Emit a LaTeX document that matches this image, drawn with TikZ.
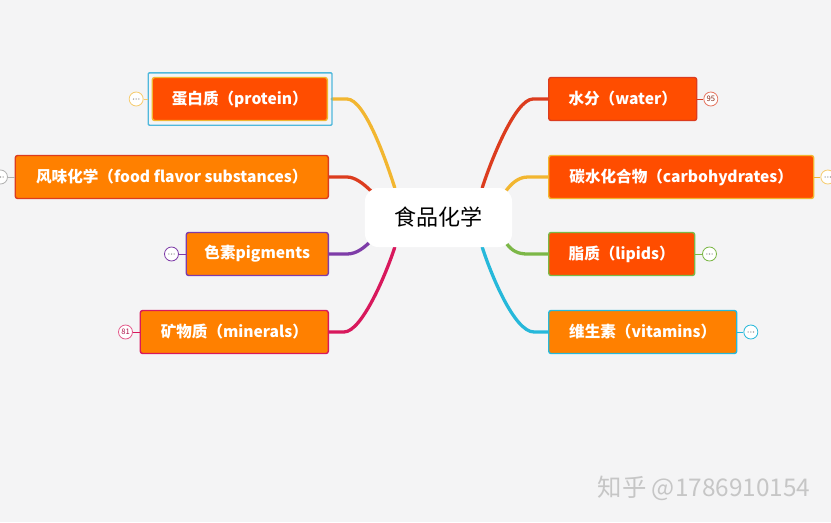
\documentclass[tikz,border=0pt]{standalone}
\usepackage{fontspec}
\newfontfamily\cjk{Noto Sans CJK SC}
\usetikzlibrary{positioning}
\pgfdeclarelayer{back}
\pgfsetlayers{back,main}
\definecolor{bg}{HTML}{F4F4F5}
\definecolor{boxred}{HTML}{FF4D00}
\definecolor{boxorange}{HTML}{FF8000}
\definecolor{lnyellow}{HTML}{F2B630}
\definecolor{lnred}{HTML}{DC3C1E}
\definecolor{lnpurple}{HTML}{7E3CA8}
\definecolor{lnmagenta}{HTML}{D8185C}
\definecolor{lngreen}{HTML}{7CB747}
\definecolor{lncyan}{HTML}{26B8DA}
\definecolor{selcyan}{HTML}{4FB8DC}

\begin{document}
\begin{tikzpicture}[x=0.03cm,y=-0.03cm,
  topic/.style={rectangle, rounded corners=2pt, minimum height=1.29cm, line width=1.2pt,
    text=white, inner sep=0pt, font=\cjk\bfseries\fontsize{13.3}{15}\selectfont},
  fold/.style={circle, draw, fill=white, line width=0.7pt, minimum size=0.42cm, inner sep=0pt,
    text=gray, font=\cjk\fontsize{6.5}{7}\selectfont},
  dots/.style={path picture={\foreach \d in {-1,0,1}
    \fill[gray!70] ([xshift=\d*0.08cm]path picture bounding box.center) circle (0.65pt);}},
  branch/.style={line width=2.8pt, line cap=round}]
  \begin{pgfonlayer}{back}
    \fill[bg] (0,0) rectangle (831,522); % background
  \end{pgfonlayer}
  \useasboundingbox (0,0) rectangle (831,522);

  \node[fill=white, rounded corners=0.4cm, minimum width=4.41cm, minimum height=1.77cm,
    font=\cjk\fontsize{18.8}{20}\selectfont] (root) at (438.5,217.5) {食品化学}; % central topic

  % left side
  \node[topic, fill=boxred, draw=lnyellow, minimum width=5.25cm, anchor=east] (protein) at (328,99) {蛋白质（protein）};
  \node[topic, fill=boxorange, draw=lnred, minimum width=9.39cm, anchor=east] (flavor) at (329,177) {风味化学（food flavor substances）};
  \node[topic, fill=boxorange, draw=lnpurple, minimum width=4.26cm, anchor=east] (pigment) at (329,254) {色素pigments};
  \node[topic, fill=boxorange, draw=lnmagenta, minimum width=5.64cm, anchor=east] (mineral) at (329,332) {矿物质（minerals）};
  % right side
  \node[topic, fill=boxred, draw=lnred, minimum width=4.44cm, anchor=west] (water) at (548,99) {水分（water）};
  \node[topic, fill=boxred, draw=lnyellow, minimum width=7.95cm, anchor=west] (carbo) at (548,177) {碳水化合物（carbohydrates）};
  \node[topic, fill=boxred, draw=lngreen, minimum width=4.38cm, anchor=west] (lipid) at (548,254) {脂质（lipids）};
  \node[topic, fill=boxorange, draw=lncyan, minimum width=5.64cm, anchor=west] (vitamin) at (548,332) {维生素（vitamins）};

  \draw[selcyan, line width=1.2pt, rounded corners=1pt] ([xshift=-0.1cm,yshift=0.12cm]protein.north west)
    rectangle ([xshift=0.12cm,yshift=-0.12cm]protein.south east); % selection frame

  % ends of the branches on the central topic
  \coordinate (rP) at ([xshift=0.9cm]root.north west);
  \coordinate (rF) at ([xshift=0.21cm,yshift=-0.12cm]root.north west);
  \coordinate (rG) at ([xshift=0.24cm,yshift=0.24cm]root.south west);
  \coordinate (rM) at ([xshift=0.9cm]root.south west);
  \coordinate (rW) at ([xshift=-0.9cm]root.north east);
  \coordinate (rC) at ([xshift=-0.21cm,yshift=-0.12cm]root.north east);
  \coordinate (rL) at ([xshift=-0.18cm,yshift=0.12cm]root.south east);
  \coordinate (rV) at ([xshift=-0.9cm]root.south east);

  \begin{pgfonlayer}{back}
    \draw[branch, lnyellow] ([xshift=0.12cm]protein.east) -- ++(15,0) .. controls +(18,0) and +(-8,-25) .. (rP); % protein
    \draw[branch, lnred] (flavor.east) -- ++(18,0) .. controls +(8,0) and +(-8,-8) .. (rF); % flavor
    \draw[branch, lnpurple] (pigment.east) -- ++(18,0) .. controls +(10,0) and +(-8,8) .. (rG); % pigments
    \draw[branch, lnmagenta] (mineral.east) -- ++(15,0) .. controls +(18,0) and +(-8,25) .. (rM); % minerals
    \draw[branch, lnred] (water.west) -- ++(-15,0) .. controls +(-18,0) and +(8,-25) .. (rW); % water
    \draw[branch, lnyellow] (carbo.west) -- ++(-20,0) .. controls +(-10,0) and +(6,-8) .. (rC); % carbohydrates
    \draw[branch, lngreen] (lipid.west) -- ++(-20,0) .. controls +(-10,0) and +(6,8) .. (rL); % lipids
    \draw[branch, lncyan] (vitamin.west) -- ++(-14,0) .. controls +(-20,0) and +(8,25) .. (rV); % vitamins
  \end{pgfonlayer}

  % folded markers
  \node[fold, dots, draw=lnyellow!70] (protein-f) [left=0.24cm of protein] {};
  \node[fold, dots, draw=gray!60] (flavor-f) [left=0.2cm of flavor] {};
  \node[fold, dots, draw=lnpurple] (pigment-f) [left=0.2cm of pigment] {};
  \node[fold, draw=lnmagenta!70, text=lnmagenta!80!black] (mineral-f) [left=0.2cm of mineral] {81};
  \node[fold, draw=lnred!70, text=lnred!60!black] (water-f) [right=0.18cm of water] {95};
  \node[fold, dots, draw=lnyellow!70] (carbo-f) [right=0.18cm of carbo] {};
  \node[fold, dots, draw=lngreen] (lipid-f) [right=0.2cm of lipid] {};
  \node[fold, dots, draw=lncyan] (vitamin-f) [right=0.18cm of vitamin] {};
  \draw[lnyellow!70, line width=0.8pt] (protein-f) -- ([xshift=-0.1cm]protein.west);
  \draw[gray!60, line width=0.8pt] (flavor-f) -- (flavor);
  \draw[lnpurple, line width=0.8pt] (pigment-f) -- (pigment);
  \draw[lnmagenta, line width=0.8pt] (mineral-f) -- (mineral);
  \draw[lnred, line width=0.8pt] (water-f) -- (water);
  \draw[lnyellow, line width=0.8pt] (carbo-f) -- (carbo);
  \draw[lngreen, line width=0.8pt] (lipid-f) -- (lipid);
  \draw[lncyan, line width=0.8pt] (vitamin-f) -- (vitamin);

  \node[text=gray!45, font=\cjk\fontsize{20.8}{22}\selectfont] (mark) at (704,488) {知乎 @1786910154}; % watermark
\end{tikzpicture}
\end{document}
